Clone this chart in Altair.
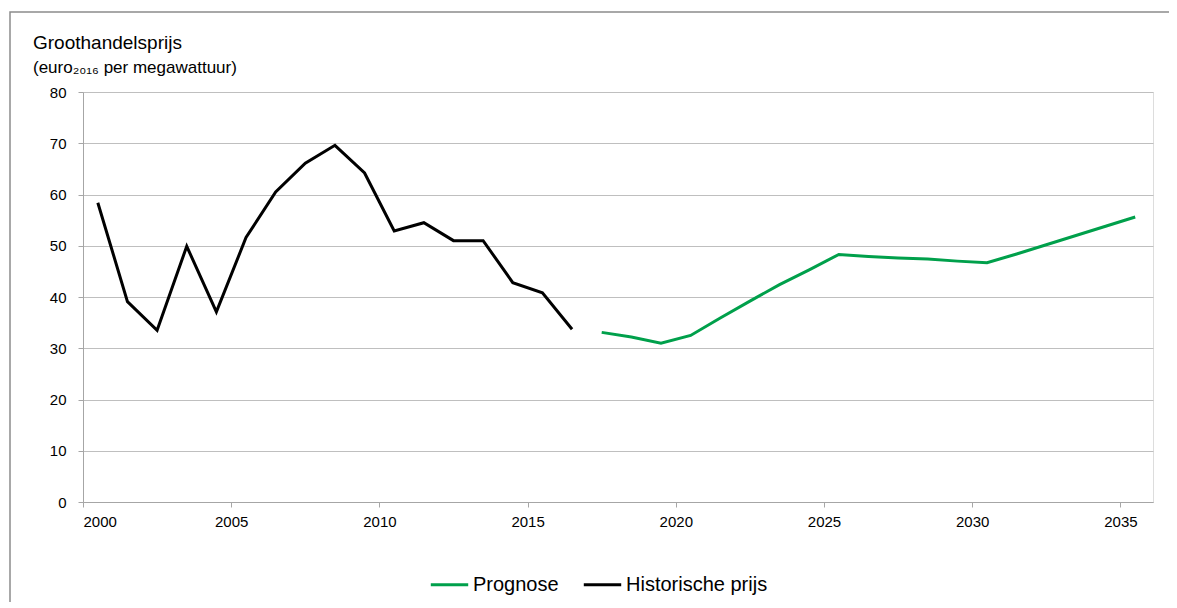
import altair as alt
import pandas as pd

hist_years = list(range(2000, 2017))
hist_values = [58.4, 39.1, 33.5, 49.9, 37.1, 51.6, 60.5, 66.1, 69.6, 64.2,
               52.9, 54.5, 51.0, 51.0, 42.8, 40.8, 33.7]
prog_years = list(range(2017, 2036))
prog_values = [33.1, 32.2, 31.0, 32.5, 35.9, 39.2, 42.4, 45.3, 48.3, 47.9,
               47.6, 47.4, 47.0, 46.7, 48.4, 50.2, 52.0, 53.8, 55.6]
series_names = ["Prognose", "Historische prijs"]
series_colors = ["#00a04b", "#000000"]
x_ticks = [2000, 2005, 2010, 2015, 2020, 2025, 2030, 2035]
y_ticks = [0, 10, 20, 30, 40, 50, 60, 70, 80]
title_text = "Groothandelsprijs"
subtitle_text = "(euro₂₀₁₆ per megawattuur)"

FONT = "Liberation Sans"
W, H = 1070, 410

df = pd.concat([
    pd.DataFrame({"jaar": hist_years, "prijs": hist_values, "reeks": "Historische prijs"}),
    pd.DataFrame({"jaar": prog_years, "prijs": prog_values, "reeks": "Prognose"}),
])

lines = alt.Chart(df).transform_calculate(
    xpos="datum.jaar + 0.5"
).mark_line(strokeWidth=3, clip=False).encode(
    x=alt.X("xpos:Q", scale=alt.Scale(domain=[2000, 2036.1], nice=False, zero=False),
            axis=alt.Axis(values=x_ticks, format="d", title=None, grid=False,
                          domainColor="#a6a6a6", tickColor="#a6a6a6", tickSize=5,
                          labelFont=FONT, labelFontSize=15, labelColor="#000000",
                          labelPadding=7)),
    y=alt.Y("prijs:Q", scale=alt.Scale(domain=[0, 80], nice=False),
            axis=alt.Axis(values=y_ticks, title=None, grid=True, gridColor="#bfbfbf",
                          domainColor="#a6a6a6", tickColor="#a6a6a6", tickSize=5,
                          labelFont=FONT, labelFontSize=15, labelColor="#000000",
                          labelPadding=12)),
    color=alt.Color("reeks:N", scale=alt.Scale(domain=series_names, range=series_colors),
                    legend=alt.Legend(title=None, orient="none", legendX=346, legendY=472,
                                      direction="horizontal", symbolType="stroke",
                                      symbolSize=1400, symbolStrokeWidth=3,
                                      labelFont=FONT, labelFontSize=20, labelColor="#000000",
                                      columnPadding=18, labelOffset=3)),
    detail="reeks:N",
)

frame = alt.Chart(pd.DataFrame({"f": [0]})).mark_rect(
    fill=None, stroke="#8c8c8c", strokeWidth=1.5, clip=False
).encode(x=alt.value(-73), x2=alt.value(1200), y=alt.value(-80), y2=alt.value(600))

title = alt.Chart(pd.DataFrame({"t": [title_text]})).mark_text(
    align="left", baseline="middle", font=FONT, fontSize=19, color="#000000"
).encode(x=alt.value(-50), y=alt.value(-49), text="t:N")

subtitle = alt.Chart(pd.DataFrame({"t": [subtitle_text]})).mark_text(
    align="left", baseline="middle", font=FONT, fontSize=17, color="#000000"
).encode(x=alt.value(-50), y=alt.value(-24), text="t:N")

chart = alt.layer(frame, lines, title, subtitle).properties(
    width=W, height=H,
    autosize=alt.AutoSizeParams(type="none"),
    padding={"left": 75, "top": 84, "right": 16, "bottom": 100},
).configure_view(stroke=None).configure(background="white")

chart.save("out.html", embed_options={"renderer": "svg", "actions": False})
